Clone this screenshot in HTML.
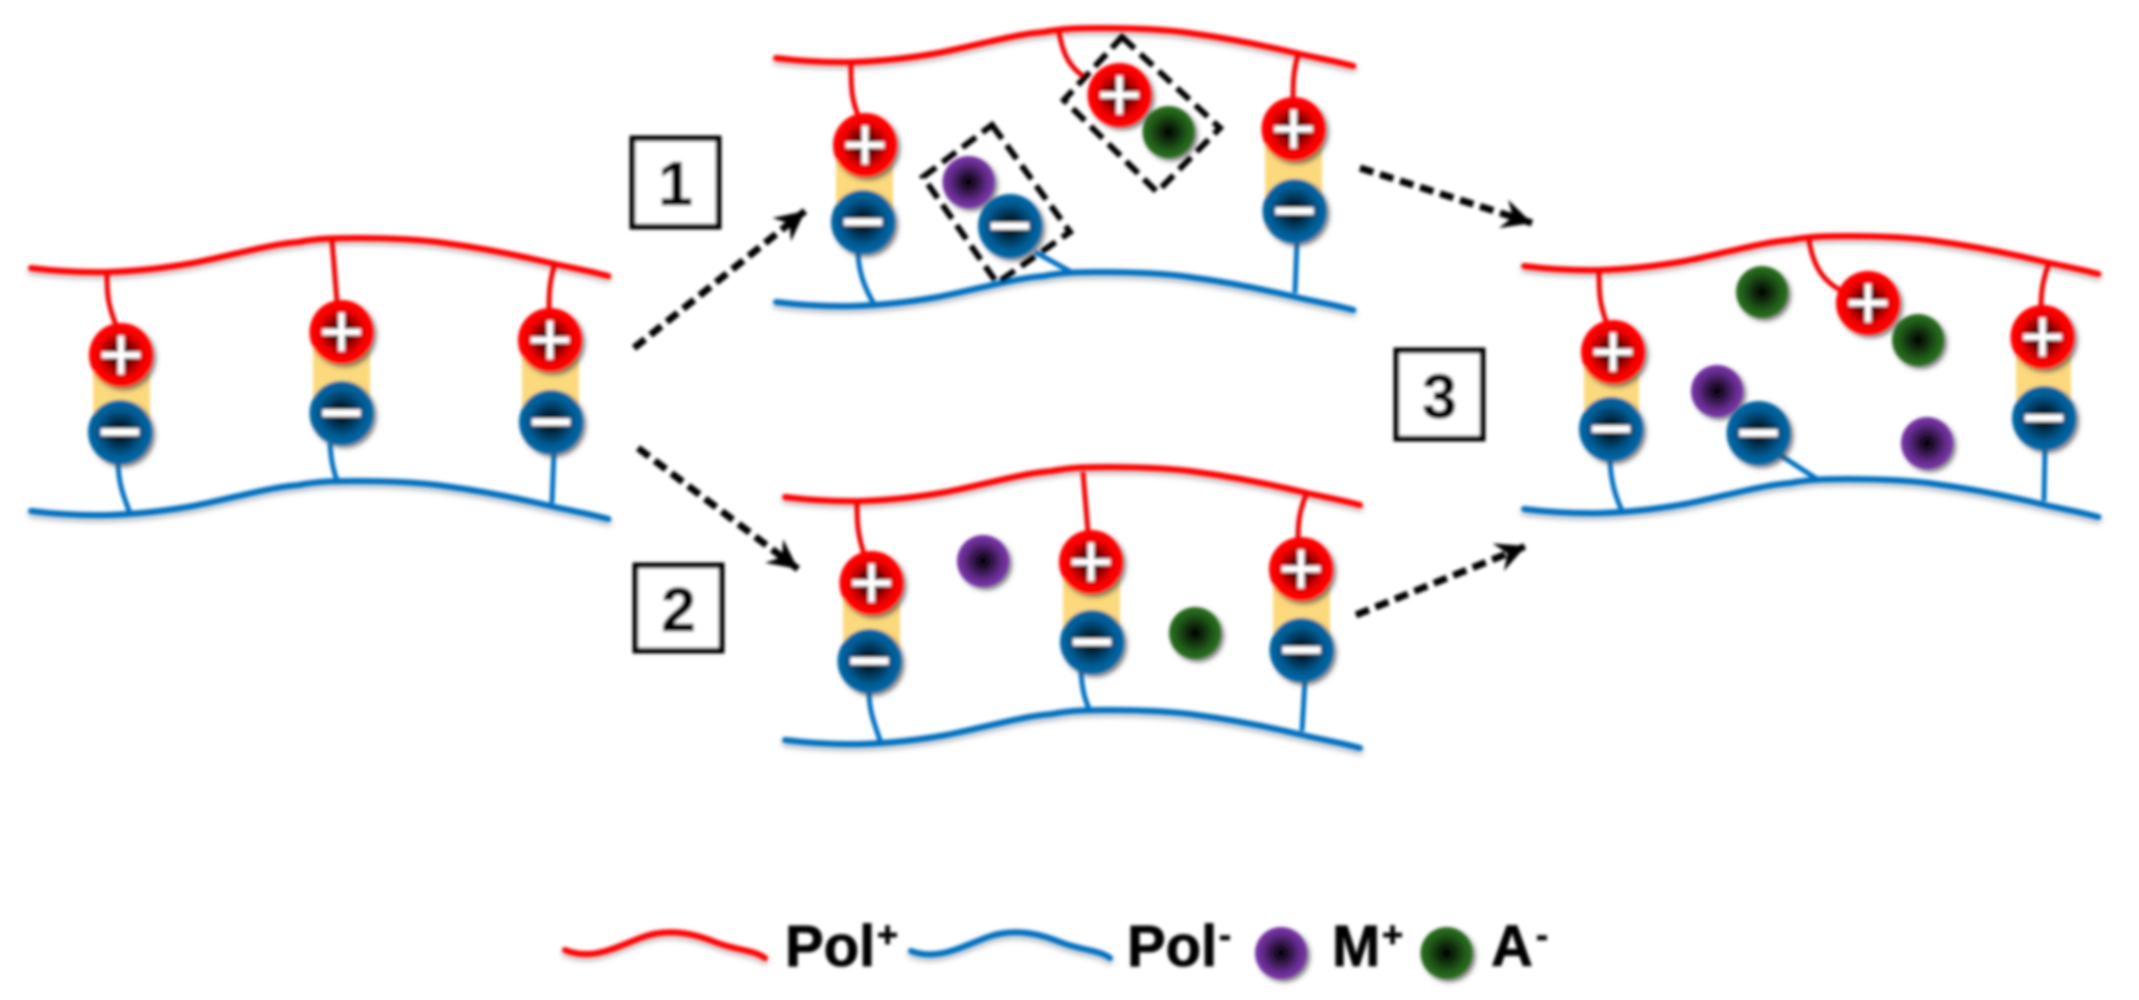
<!DOCTYPE html>
<html><head><meta charset="utf-8"><style>
html,body{margin:0;padding:0;background:#fff;width:2139px;height:1000px;overflow:hidden}
svg{display:block}
text{font-family:"Liberation Sans",sans-serif;font-weight:bold;fill:#000;stroke:#000;stroke-width:.8px}
</style></head><body>
<svg width="2139" height="1000" viewBox="0 0 2139 1000" xmlns="http://www.w3.org/2000/svg">
<defs>
<filter id="b" x="-5%" y="-5%" width="110%" height="110%"><feGaussianBlur stdDeviation="1.6"/></filter>
<filter id="sh" x="-30%" y="-30%" width="170%" height="170%"><feDropShadow dx="3" dy="3" stdDeviation="2" flood-color="#444" flood-opacity=".7"/></filter>
<filter id="cs" x="-5%" y="-30%" width="110%" height="170%"><feDropShadow dx="0" dy="3" stdDeviation="3" flood-opacity=".35"/></filter>
<radialGradient id="gr"><stop offset="0" stop-color="#000"/><stop offset=".72" stop-color="#f00000"/><stop offset=".85" stop-color="#ff0000"/><stop offset="1" stop-color="#ff0000"/></radialGradient>
<radialGradient id="gb"><stop offset="0" stop-color="#000"/><stop offset=".72" stop-color="#005a92"/><stop offset="1" stop-color="#006aa8"/></radialGradient>
<radialGradient id="gp"><stop offset="0" stop-color="#000"/><stop offset=".75" stop-color="#662d91"/><stop offset="1" stop-color="#7a35a8"/></radialGradient>
<radialGradient id="gg"><stop offset="0" stop-color="#000"/><stop offset=".75" stop-color="#22601a"/><stop offset="1" stop-color="#2a7020"/></radialGradient>
<path id="ch" fill="none" stroke-width="6" stroke-linecap="round" d="M0 0C25 3 55 4.500 78 4C110 3 140 -1 163 -5C200 -12 240 -24 270 -26C290 -30 310 -30 328 -30C360 -30 390 -29 417 -25C455 -20 490 -13 524 -5C545 0 565 3 582 8"/>
<g id="p"><circle r="32" fill="url(#gr)" filter="url(#sh)"/><rect x="-19" y="-3" width="38" height="6" fill="#fff"/><rect x="-3" y="-19" width="6" height="38" fill="#fff"/></g>
<g id="m"><circle r="32" fill="url(#gb)" filter="url(#sh)"/><rect x="-19" y="-3.500" width="38" height="7" fill="#fff"/></g>
<circle id="pu" r="26" fill="url(#gp)" filter="url(#sh)"/>
<circle id="gn" r="26" fill="url(#gg)" filter="url(#sh)"/>
<marker id="ah" markerUnits="userSpaceOnUse" markerWidth="40" markerHeight="40" viewBox="-32 -20 40 40" refX="0" refY="0" orient="auto"><path d="M0 0L-30 -15L-20 0L-30 15Z" fill="#000"/></marker>
</defs>
<g filter="url(#b)">
<g fill="#fcd97c">
<rect x="93" y="355" width="57" height="100" rx="12"/>
<rect x="313" y="332" width="57" height="105" rx="12"/>
<rect x="522" y="340" width="57" height="105" rx="12"/>
<rect x="836" y="145" width="57" height="100" rx="12"/>
<rect x="1265" y="129" width="57" height="105" rx="12"/>
<rect x="843" y="583" width="57" height="100" rx="12"/>
<rect x="1063" y="562" width="57" height="103" rx="12"/>
<rect x="1273" y="569" width="57" height="103" rx="12"/>
<rect x="1584" y="352" width="55" height="100" rx="12"/>
<rect x="2016" y="337" width="55" height="103" rx="12"/>
</g>
<g stroke="#ff0000" filter="url(#cs)">
<use href="#ch" transform="translate(31 268) scale(.992 1)"/><use href="#ch" transform="translate(776 58) scale(.992 1)"/><use href="#ch" transform="translate(785 497) scale(.988 1)"/><use href="#ch" transform="translate(1524 266) scale(.987 1)"/>
</g>
<g stroke="#0070c0" filter="url(#cs)">
<use href="#ch" transform="translate(31 511) scale(.992 1)"/><use href="#ch" transform="translate(776 302) scale(.992 1)"/><use href="#ch" transform="translate(785 740) scale(.988 1)"/><use href="#ch" transform="translate(1524 509) scale(.987 1)"/>
</g>
<g fill="none" stroke="#f00000" stroke-width="5">
<path d="M107 275C107 295 108 305 116 325"/><path d="M332 240L337 302"/><path d="M555 263C550 280 549 290 549 310"/>
<path d="M851 65C851 90 852 100 858 115"/><path d="M1298 55C1293 72 1293 85 1293 102"/><path d="M1059 32C1063 55 1070 68 1086 78"/>
<path d="M857 503C857 525 858 535 864 554"/><path d="M1083 472L1088 532"/><path d="M1306 495C1300 510 1298 520 1298 540"/>
<path d="M1599 272C1599 295 1600 305 1607 324"/><path d="M1809 240C1813 265 1822 280 1840 290"/><path d="M2049 263C2043 280 2041 290 2041 309"/>
</g>
<g fill="none" stroke="#0070c0" stroke-width="5">
<path d="M118 463C119 485 123 495 130 513"/><path d="M330 443C331 460 333 470 338 483"/><path d="M554 451L552 503"/>
<path d="M858 253C859 275 866 290 874 304"/><path d="M1035 252L1073 273"/><path d="M1297 241L1295 293"/>
<path d="M869 691C869 712 875 725 881 743"/><path d="M1081 671C1082 690 1085 700 1090 711"/><path d="M1305 680L1302 731"/>
<path d="M1610 460C1611 482 1615 495 1622 511"/><path d="M1780 455L1817 479"/><path d="M2045 448L2044 501"/>
</g>
<use href="#m" x="120" y="432"/><use href="#p" x="121" y="355"/>
<use href="#m" x="341.500" y="413"/><use href="#p" x="341.500" y="332"/>
<use href="#m" x="551" y="422"/><use href="#p" x="550" y="340"/>
<use href="#m" x="863" y="222"/><use href="#p" x="865" y="145"/>
<use href="#m" x="1294.500" y="211"/><use href="#p" x="1293.500" y="129"/>
<use href="#gn" x="1168.500" y="132"/><use href="#p" x="1119.500" y="95"/>
<use href="#pu" x="968.500" y="182"/><use href="#m" x="1010" y="226"/>
<use href="#m" x="869.500" y="661"/><use href="#p" x="871.500" y="583"/>
<use href="#m" x="1092" y="642"/><use href="#p" x="1091" y="562"/>
<use href="#m" x="1301.500" y="650"/><use href="#p" x="1301" y="569"/>
<use href="#pu" x="983" y="561"/><use href="#gn" x="1195" y="633"/>
<use href="#m" x="1611" y="429"/><use href="#p" x="1613" y="352"/>
<use href="#m" x="2044" y="418"/><use href="#p" x="2042.500" y="337"/>
<use href="#gn" x="1762" y="292"/><use href="#gn" x="1918" y="340"/><use href="#p" x="1868" y="303"/>
<use href="#pu" x="1717" y="391"/><use href="#m" x="1758.500" y="433"/><use href="#pu" x="1927" y="443"/>
<g fill="none" stroke="#000" stroke-width="6" stroke-dasharray="17 8">
<polygon points="992,125 1070,232 997,283 923,177"/>
<polygon points="1122,37 1220,128 1157,192 1064,100"/>
</g>
<g stroke="#000" stroke-width="7" stroke-dasharray="14 7" fill="none">
<line x1="634" y1="348" x2="805" y2="211" marker-end="url(#ah)"/>
<line x1="638" y1="448" x2="798" y2="569" marker-end="url(#ah)"/>
<line x1="1360" y1="168" x2="1532" y2="223" marker-end="url(#ah)"/>
<line x1="1356" y1="615" x2="1526" y2="546" marker-end="url(#ah)"/>
</g>
<g fill="#fff" stroke="#000" stroke-width="6">
<rect x="632.500" y="138.500" width="86" height="88"/>
<rect x="635.500" y="565.500" width="86" height="85"/>
<rect x="1396.500" y="350.500" width="86" height="88"/>
</g>
<text x="675.500" y="205" font-size="62" text-anchor="middle">1</text>
<text x="678.500" y="631" font-size="62" text-anchor="middle">2</text>
<text x="1439.500" y="418" font-size="62" text-anchor="middle">3</text>
<path d="M565 950C590 960 610 950 640 938C665 928 690 932 715 942C735 950 755 950 765 958" fill="none" stroke="#ff0000" stroke-width="6" stroke-linecap="round" filter="url(#cs)"/>
<path d="M911 951C935 960 955 950 985 938C1010 928 1035 932 1060 942C1080 950 1100 950 1110 958" fill="none" stroke="#0070c0" stroke-width="6" stroke-linecap="round" filter="url(#cs)"/>
<text x="785" y="966" font-size="58">Pol</text><text x="877" y="947" font-size="36">+</text>
<text x="1127" y="966" font-size="58">Pol</text><text x="1219" y="947" font-size="36">-</text>
<use href="#pu" x="1281" y="953"/>
<text x="1332" y="966" font-size="58">M</text><text x="1382" y="947" font-size="36">+</text>
<use href="#gn" x="1446.500" y="953"/>
<text x="1491" y="966" font-size="58">A</text><text x="1536" y="947" font-size="36">-</text>
</g>
</svg>
</body></html>
